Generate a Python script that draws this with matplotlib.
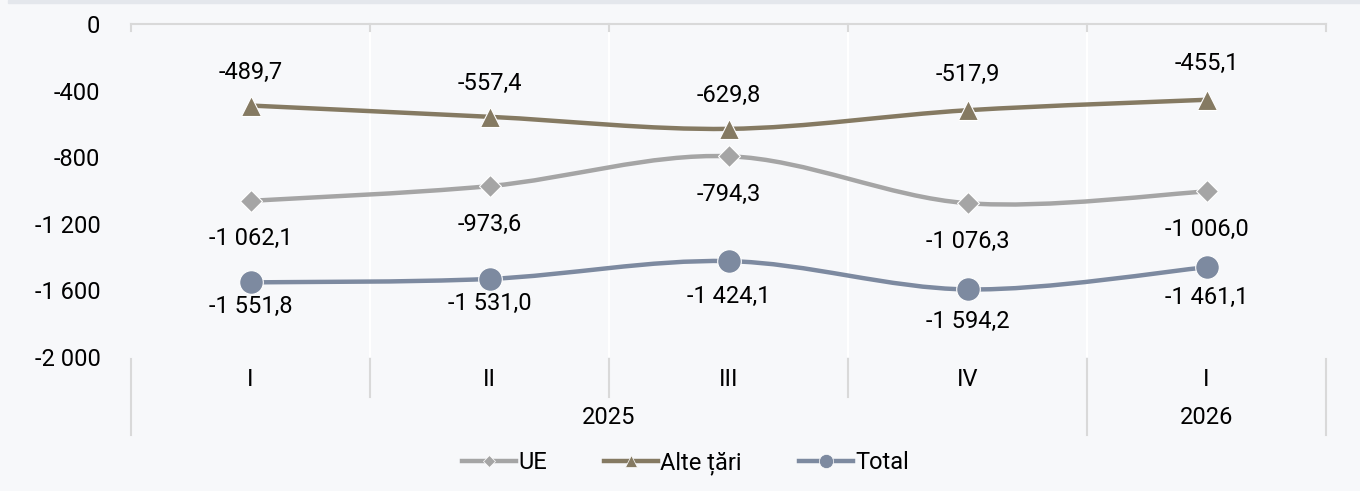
import matplotlib
matplotlib.use("Agg")
import matplotlib.pyplot as plt
from matplotlib.path import Path
from matplotlib.patches import PathPatch, Rectangle
from matplotlib.lines import Line2D
from matplotlib.ticker import FixedLocator, FuncFormatter

plt.rcParams['font.family'] = ['Roboto', 'DejaVu Sans']

quarters = ["I", "II", "III", "IV", "I"]
years = ["2025", "2026"]
ue = [-1062.1, -973.6, -794.3, -1076.3, -1006.0]
alte = [-489.7, -557.4, -629.8, -517.9, -455.1]
total = [-1551.8, -1531.0, -1424.1, -1594.2, -1461.1]
yticks = [0, -400, -800, -1200, -1600, -2000]

BG = "#F7F8FA"
C_UE = "#A5A5A5"
C_ALTE = "#857A62"
C_TOT = "#7D8AA0"
GRID = "#D9D9D9"
FS = 17


def fmt(v):
    return f"{v:,.1f}".replace(",", " ").replace(".", ",")


def smooth_path(xs, ys):
    # Bezier path through the points (Catmull-Rom style, like Excel smoothing)
    pts = list(zip(xs, ys))
    verts = [pts[0]]
    codes = [Path.MOVETO]
    n = len(pts)
    for i in range(n - 1):
        p0 = pts[i - 1] if i > 0 else pts[i]
        p1 = pts[i]
        p2 = pts[i + 1]
        p3 = pts[i + 2] if i + 2 < n else pts[i + 1]
        c1 = (p1[0] + (p2[0] - p0[0]) / 6, p1[1] + (p2[1] - p0[1]) / 6)
        c2 = (p2[0] - (p3[0] - p1[0]) / 6, p2[1] - (p3[1] - p1[1]) / 6)
        verts += [c1, c2, p2]
        codes += [Path.CURVE4] * 3
    return Path(verts, codes)


fig = plt.figure(figsize=(13.6, 4.91), dpi=100, facecolor=BG)
fig.patches.append(Rectangle((0.006, 0.994), 0.994, 0.006, transform=fig.transFigure,
                             color="#E4E7EC", zorder=0))
ax = fig.add_axes([131 / 1360, 1 - 357 / 491, 1195 / 1360, 333 / 491])
ax.set_facecolor(BG)
ax.set_xlim(-0.5, 4.5)
ax.set_ylim(-2000, 0)

x = list(range(len(quarters)))

# white vertical gridlines between categories
for b in [0.5, 1.5, 2.5, 3.5]:
    ax.axvline(b, color="white", lw=1.5, zorder=1)

for sp in ["left", "right", "bottom"]:
    ax.spines[sp].set_visible(False)
ax.spines["top"].set_color(GRID)
ax.spines["top"].set_linewidth(1.5)

# tick marks hanging from the zero line
for b in [-0.5, 0.5, 1.5, 2.5, 3.5, 4.5]:
    ax.plot([b, b], [0, -40], color=GRID, lw=1.5, zorder=2, clip_on=False)

ax.yaxis.set_major_locator(FixedLocator(yticks))
ax.yaxis.set_major_formatter(FuncFormatter(lambda v, p: f"{v:,.0f}".replace(",", " ")))
ax.tick_params(axis="y", length=0, pad=22, labelsize=FS, labelcolor="black")
ax.set_xticks([])

series = [
    (ue, C_UE, "D", 11, "UE", [-38] * 5),
    (alte, C_ALTE, "^", 15, "Alte țări", [33, 33, 33, 36, 36]),
    (total, C_TOT, "o", 17, "Total", [-24, -25, -35, -32, -30]),
]
handles = []
for vals, col, mk, ms, name, offs in series:
    ax.add_patch(PathPatch(smooth_path(x, vals), facecolor="none", edgecolor=col,
                           lw=3.2, capstyle="round", zorder=3))
    ax.plot(x, vals, linestyle="none", marker=mk, markersize=ms, color=col,
            markeredgecolor="white", markeredgewidth=0.8, zorder=4)
    for xi, v, off in zip(x, vals, offs):
        ax.annotate(fmt(v), (xi, v), xytext=(0, off), textcoords="offset pixels",
                    ha="center", va="center", fontsize=FS, color="black", zorder=5)
    handles.append(Line2D([], [], color=col, lw=3.2, marker=mk,
                          markersize=ms * 0.6, markeredgecolor="white",
                          markeredgewidth=0.5, label=name))

# category axis below the plot
xt = ax.get_xaxis_transform()
for xi, q in zip(x, quarters):
    ax.annotate(q, (xi, 0), xycoords=xt, xytext=(0, -23), textcoords="offset pixels",
                ha="center", va="center", fontsize=FS, color="black")
ax.annotate(years[0], (1.5, 0), xycoords=xt, xytext=(0, -60), textcoords="offset pixels",
            ha="center", va="center", fontsize=FS, color="black")
ax.annotate(years[1], (4, 0), xycoords=xt, xytext=(0, -60), textcoords="offset pixels",
            ha="center", va="center", fontsize=FS, color="black")

for b in [-0.5, 0.5, 1.5, 2.5, 3.5, 4.5]:
    low = -0.234 if b in (-0.5, 3.5, 4.5) else -0.12
    ax.plot([b, b], [-0.006, low], transform=xt, color=GRID, lw=1.5, clip_on=False)

fig.legend(handles=handles, loc="center", bbox_to_anchor=(0.504, 1 - 463 / 491),
           ncol=3, frameon=False, fontsize=FS, handlelength=2.3, handletextpad=0.1,
           columnspacing=2.4)

fig.savefig("out.png", dpi=100, facecolor=BG)
